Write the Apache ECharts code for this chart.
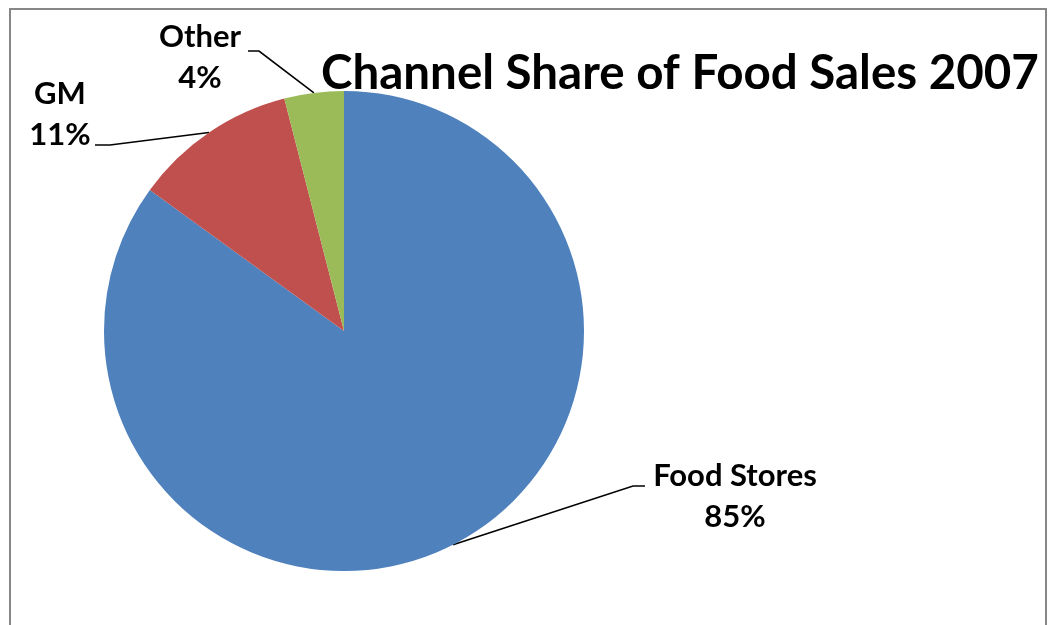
<!DOCTYPE html>
<html>
<head>
<meta charset="utf-8">
<script src="https://cdn.jsdelivr.net/npm/echarts@6/dist/echarts.min.js"></script>
<style>
  html, body { margin: 0; padding: 0; background: #fff; }
  #chart { width: 1050px; height: 625px; }
</style>
</head>
<body>
<div id="chart"></div>
<script>
// Food sales by channel, 2007 (percent of total)
const categories = ['Food Stores', 'GM', 'Other'];
const shares = [85, 11, 4];
const sliceColors = ['#4F81BD', '#C0504D', '#9BBB59'];
const chartTitle = 'Channel Share of Food Sales 2007';

// Where each callout sits and how its leader line bends
const callouts = [
  { x: 735, y: 496, bend: [633, 486], end: [645, 486] },
  { x: 60,  y: 114, bend: [110, 145], end: [95, 145] },
  { x: 200, y: 57,  bend: [259, 51],  end: [248, 51] }
];

const chart = echarts.init(document.getElementById('chart'), null, { renderer: 'canvas' });

const FONT = 'Lato, "Open Sans", sans-serif';

chart.setOption({
  animation: false,
  backgroundColor: '#ffffff',
  title: {
    text: chartTitle,
    left: 316,
    top: 45,
    textStyle: { fontFamily: FONT, fontWeight: 'bold', fontSize: 47.5, color: '#000' }
  },
  graphic: [{
    type: 'rect',
    shape: { x: 10, y: 9, width: 1036, height: 640 },
    style: { fill: null, stroke: '#878787', lineWidth: 2 },
    silent: true,
    z: -1
  }],
  series: [{
    type: 'pie',
    center: [344, 331],
    radius: 240,
    startAngle: 90,
    clockwise: true,
    avoidLabelOverlap: false,
    data: categories.map((name, i) => ({
      name: name,
      value: shares[i],
      itemStyle: { color: sliceColors[i] }
    })),
    itemStyle: { borderWidth: 0 },
    label: {
      show: true,
      position: 'outside',
      formatter: '{b}\n{c}%',
      fontFamily: FONT,
      fontWeight: 'bold',
      fontSize: 31,
      lineHeight: 41,
      color: '#000',
      align: 'center'
    },
    labelLine: {
      show: true,
      length: 20,
      length2: 10,
      lineStyle: { color: '#000', width: 1.6 }
    },
    labelLayout: function (params) {
      const c = callouts[params.dataIndex];
      const start = params.labelLinePoints[0];
      return {
        x: c.x,
        y: c.y,
        align: 'center',
        verticalAlign: 'middle',
        labelLinePoints: [start, c.bend, c.end]
      };
    },
    emphasis: { disabled: true }
  }]
});
</script>
</body>
</html>
